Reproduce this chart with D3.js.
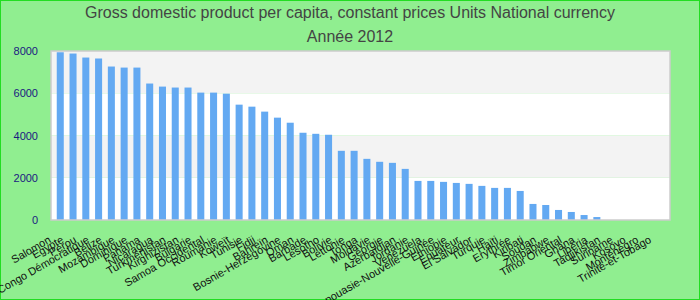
<!DOCTYPE html>
<html>
<head>
<meta charset="utf-8">
<script src="https://cdn.jsdelivr.net/npm/d3@7"></script>
<style>
  body { margin: 0; background: #90ee90; }
  #chart { width: 700px; height: 300px; }
  text { font-family: "Liberation Sans", Arial, sans-serif; }
</style>
</head>
<body>
<div id="chart"></div>
<script>
"use strict";

var countries = [
  "Salomon", "Egypte", "Pérou", "Congo Démocratique", "Belize", "Mozambique",
  "Dominique", "Panama", "Nicaragua", "Turkménistan", "Kirghizistan", "Bulgarie",
  "Samoa Occidental", "Roumanie", "Koweït", "Tunisie", "Fidji", "Bahreïn",
  "Bosnie-Herzégovine", "Oman", "Barbade", "Lesotho", "Bolivie", "Lettonie",
  "Tonga", "Moldavie", "Géorgie", "Azerbaïdjan", "Jordanie", "Venezuela",
  "Papouasie-Nouvelle-Guinée", "Ethiopie", "Equateur", "El Salvador", "Turquie",
  "Haïti", "Erythrée", "Kiribati", "Soudan", "Zimbabwe", "Timor Oriental", "Ghana",
  "Libéria", "Tadjikistan", "Suriname", "Kosovo", "Monténégro", "Trinité-et-Tobago"
];

var values = [
  7940, 7880, 7690, 7645, 7265, 7215,
  7215, 6460, 6315, 6270, 6270, 6030,
  6030, 5980, 5460, 5365, 5130, 4845,
  4605, 4130, 4080, 4035, 3275, 3275,
  2895, 2755, 2705, 2420, 1850, 1850,
  1805, 1755, 1710, 1615, 1520, 1520,
  1375, 760, 710, 475, 380, 235,
  140, null, null, null, null, null
];

var yTicks = [0, 2000, 4000, 6000, 8000];
var title = "Gross domestic product per capita, constant prices Units National currency";
var subtitle = "Année 2012";

var width = 700, height = 300;
var margin = { top: 51, right: 30, bottom: 80, left: 51 };

var svg = d3.select("#chart").append("svg")
  .attr("width", width)
  .attr("height", height);

// page border
svg.append("rect")
  .attr("x", 0.5).attr("y", 0.5)
  .attr("width", width - 1).attr("height", height - 1)
  .attr("fill", "#90ee90")
  .attr("stroke", "#22dd22");

svg.append("text")
  .attr("x", width / 2).attr("y", 18)
  .attr("text-anchor", "middle")
  .attr("font-size", 16)
  .attr("fill", "#444")
  .text(title);

svg.append("text")
  .attr("x", width / 2).attr("y", 42)
  .attr("text-anchor", "middle")
  .attr("font-size", 16)
  .attr("fill", "#444")
  .text(subtitle);

var x = d3.scaleBand()
  .domain(countries)
  .range([margin.left, width - margin.right])
  .padding(0.45);

var y = d3.scaleLinear()
  .domain([0, 8000])
  .range([height - margin.bottom, margin.top]);

// alternating bands
var bands = d3.pairs(yTicks);
svg.selectAll("rect.band")
  .data(bands)
  .enter().append("rect")
  .attr("class", "band")
  .attr("x", margin.left)
  .attr("width", width - margin.right - margin.left)
  .attr("y", function(d) { return y(d[1]); })
  .attr("height", function(d) { return y(d[0]) - y(d[1]); })
  .attr("fill", function(d, i) { return i % 2 ? "#f3f3f3" : "#ffffff"; });

svg.selectAll("rect.bar")
  .data(values.map(function(v, i) { return { name: countries[i], value: v }; })
    .filter(function(d) { return d.value != null; }))
  .enter().append("rect")
  .attr("class", "bar")
  .attr("x", function(d) { return x(d.name); })
  .attr("width", x.bandwidth())
  .attr("y", function(d) { return y(d.value); })
  .attr("height", function(d) { return y(0) - y(d.value); })
  .attr("fill", "#63a9f2");

// plot frame
svg.append("rect")
  .attr("x", margin.left).attr("y", margin.top)
  .attr("width", width - margin.right - margin.left)
  .attr("height", height - margin.bottom - margin.top)
  .attr("fill", "none")
  .attr("stroke", "#cccccc")
  .attr("stroke-width", 1.5);

// y axis
var yAxis = svg.append("g")
  .attr("transform", "translate(" + (margin.left - 10) + ",0)")
  .call(d3.axisLeft(y).tickValues(yTicks).tickSize(0).tickFormat(d3.format("d")));
yAxis.select(".domain").remove();
yAxis.selectAll("text")
  .attr("font-size", 11)
  .attr("fill", "#1a1a80")
  .attr("font-family", "Liberation Sans, Arial, sans-serif");

// x axis labels, slanted
var xAxis = svg.append("g")
  .attr("transform", "translate(0," + (height - margin.bottom) + ")")
  .call(d3.axisBottom(x).tickSize(0));
xAxis.select(".domain").remove();
xAxis.selectAll("text")
  .attr("font-size", 11)
  .attr("fill", "#111")
  .attr("font-family", "Liberation Sans, Arial, sans-serif")
  .attr("text-anchor", "end")
  .attr("dy", "0.35em")
  .attr("transform", "translate(-12,16) rotate(-30)");
</script>
</body>
</html>
